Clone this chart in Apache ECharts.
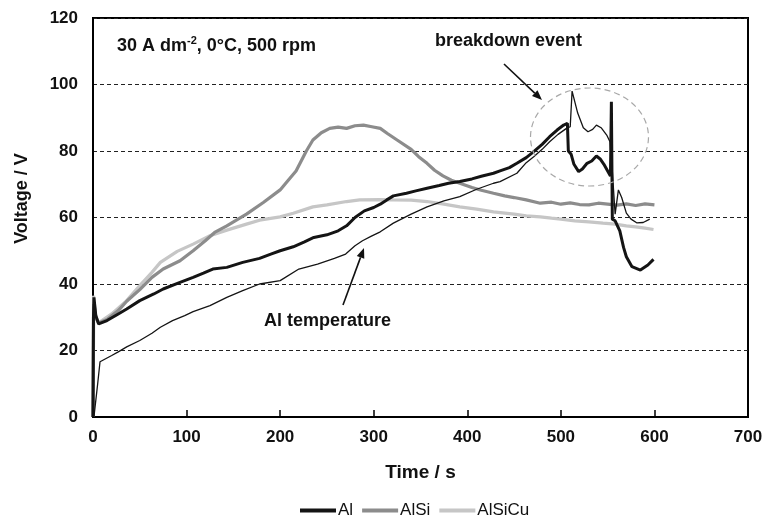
<!DOCTYPE html>
<html>
<head>
    <meta charset="utf-8">
    <title>Voltage transients</title>
    <script src="https://cdn.jsdelivr.net/npm/echarts@6/dist/echarts.min.js"></script>
</head>
<body style="margin:0;background:#fff;">
    <div id="main" style="width:766px;height:526px;"></div>
    <script type="text/javascript">
        // values, [time s, voltage V]
        var seriesNames = ['Al', 'AlSi', 'AlSiCu'];
        var tempName = 'Al temperature';

        var al = [
            [0, 0], [0.5, 30], [1, 36], [3, 30.5], [6, 28], [15, 29], [27, 31], [36, 32.5], [50, 35], [65, 37],
            [75, 38.5], [93, 40.5], [107, 42], [118, 43.3], [128, 44.5], [143, 45], [160, 46.5], [178, 47.7],
            [190, 49], [200, 50], [214, 51.2], [226, 52.7], [236, 54], [250, 54.8], [262, 56], [271, 57.5],
            [280, 60], [290, 62], [300, 63], [307, 64], [314, 65.3], [321, 66.5], [335, 67.3], [345, 68],
            [357, 68.8], [370, 69.6], [380, 70.3], [392, 70.8], [405, 71.6], [415, 72.4], [428, 73.3],
            [435, 74], [445, 75], [453, 76.3], [463, 78], [471, 79.8], [480, 82], [488, 84.3], [496, 86.3],
            [503, 87.8], [507, 88.3], [508, 80], [511, 79], [514, 76], [519, 73.8], [523, 74.6], [528, 76.3],
            [533, 77], [538, 78.5], [542, 77.6], [546, 76], [550, 74], [553, 72.5], [554, 94.8], [555, 59.5],
            [558, 59], [563, 56], [567, 51], [570, 48.2], [576, 45.2], [585, 44.2], [593, 45.7], [599, 47.4]
        ];

        var alSi = [
            [0, 0], [0.3, 10], [0.6, 30], [1, 34], [3, 30], [6, 28.3], [15, 29.3], [27, 32], [36, 34.8],
            [50, 38.3], [63, 42], [75, 44.5], [93, 47], [107, 50], [120, 53], [130, 55.5], [143, 57.5],
            [155, 59.5], [164, 61], [182, 64.5], [200, 68.3], [208, 71], [217, 74], [228, 80], [235, 83.3],
            [244, 85.5], [253, 86.8], [262, 87.2], [271, 86.8], [280, 87.6], [289, 87.8], [298, 87.3],
            [307, 86.8], [315, 85.2], [325, 83.3], [340, 80.5], [348, 78.3], [357, 76.3], [365, 74.2],
            [374, 72.5], [383, 71.2], [392, 70.3], [405, 69], [415, 68.2], [428, 67.3], [440, 66.5],
            [450, 66], [463, 65.3], [478, 64.3], [490, 64.6], [500, 64], [510, 64.4], [520, 63.9],
            [530, 63.8], [540, 64.3], [550, 64], [560, 63.7], [570, 64.1], [580, 63.6], [590, 64.1], [600, 63.8]
        ];

        var alSiCu = [
            [0, 0], [0.3, 20], [0.6, 36.5], [1.5, 34], [3, 30], [6, 28.3], [20, 31], [36, 35], [50, 39.5],
            [63, 43.5], [72, 46.5], [90, 49.8], [107, 52], [125, 54.5], [143, 56.2], [164, 58], [178, 59.2],
            [200, 60.2], [214, 61.3], [235, 63.2], [250, 63.8], [271, 64.8], [285, 65.3], [307, 65.4],
            [321, 65.3], [340, 65.2], [357, 64.8], [375, 64], [392, 63.2], [410, 62.5], [428, 61.7],
            [450, 61], [463, 60.5], [478, 60.2], [490, 59.8], [500, 59.5], [515, 59], [530, 58.7],
            [545, 58.3], [558, 58], [570, 57.5], [580, 57.2], [590, 56.8], [599, 56.4]
        ];

        var alTemp = [
            [1, 0], [3, 5], [5, 10], [7.5, 16.6], [10, 17], [20, 18.5], [27, 19.6], [36, 21.1], [50, 23],
            [63, 25.2], [72, 27], [85, 29], [98, 30.5], [107, 31.7], [125, 33.5], [143, 36], [160, 38],
            [178, 40], [200, 41], [220, 44.5], [240, 46], [258, 47.7], [270, 49], [280, 51.5], [288, 53],
            [297, 54.3], [307, 55.7], [321, 58.3], [340, 61], [357, 63.2], [375, 65], [392, 66.3],
            [410, 68.5], [428, 70.3], [435, 70.8], [453, 73.3], [463, 76.5], [471, 78.3], [480, 80.5],
            [488, 82.8], [497, 85], [506, 86.8], [510, 87.3], [512, 98], [513, 97.5], [518, 91.4],
            [524, 87], [529, 85.8], [534, 86.5], [538, 87.8], [543, 87], [549, 84.8], [552.5, 82.8],
            [555, 74], [558, 61], [561.5, 68.3], [565, 66], [570, 61.3], [575, 59.5], [581, 58.4],
            [588, 58.5], [595, 59.5]
        ];

        var xTicks = [0, 700, 100];
        var yTicks = [0, 120, 20];

        var font = 'Liberation Sans';
        var myChart = echarts.init(document.getElementById('main'));

        function arrow(x1, y1, x2, y2) {
            var a = Math.atan2(y2 - y1, x2 - x1);
            var L = 10, W = 4;
            var bx = x2 - L * Math.cos(a), by = y2 - L * Math.sin(a);
            return [{
                type: 'line', z: 100,
                shape: {x1: x1, y1: y1, x2: bx, y2: by},
                style: {stroke: '#111', lineWidth: 1.6}
            }, {
                type: 'polygon', z: 100,
                shape: {points: [[x2, y2],
                    [bx + W * Math.sin(a), by - W * Math.cos(a)],
                    [bx - W * Math.sin(a), by + W * Math.cos(a)]]},
                style: {fill: '#111'}
            }];
        }

        function lineSeries(name, data, color, width, z) {
            return {
                name: name, type: 'line', data: data, showSymbol: false, z: z,
                lineStyle: {color: color, width: width}, itemStyle: {color: color},
                animation: false
            };
        }

        var option = {
            animation: false,
            textStyle: {fontFamily: font},
            grid: {left: 93, right: 18, top: 18, bottom: 109, show: true, borderColor: '#000', borderWidth: 2},
            legend: {
                data: seriesNames, left: 295, top: 497, icon: 'rect',
                itemWidth: 36, itemHeight: 4, itemGap: 9,
                textStyle: {fontFamily: font, fontSize: 17, color: '#111', padding: [0, 0, 0, -3]}
            },
            xAxis: {
                type: 'value', min: xTicks[0], max: xTicks[1], interval: xTicks[2],
                name: 'Time / s', nameLocation: 'middle', nameGap: 46,
                nameTextStyle: {fontFamily: font, fontSize: 19, fontWeight: 'bold', color: '#111'},
                axisLine: {lineStyle: {color: '#000', width: 2}},
                axisTick: {inside: true, length: 7, lineStyle: {color: '#000', width: 1.5}},
                axisLabel: {fontFamily: font, fontSize: 17, fontWeight: 'bold', color: '#111', margin: 12},
                splitLine: {show: false}
            },
            yAxis: {
                type: 'value', min: yTicks[0], max: yTicks[1], interval: yTicks[2],
                name: 'Voltage / V', nameLocation: 'middle', nameGap: 62,
                nameTextStyle: {fontFamily: font, fontSize: 18, fontWeight: 'bold', color: '#111',
                    padding: [0, 0, 0, 38]},
                axisLine: {lineStyle: {color: '#000', width: 2}},
                axisTick: {show: false},
                axisLabel: {fontFamily: font, fontSize: 17, fontWeight: 'bold', color: '#111', margin: 15},
                splitLine: {lineStyle: {color: '#222', width: 1, type: [4, 3]}}
            },
            series: [
                lineSeries(seriesNames[0], al, '#141414', 3, 4),
                lineSeries(seriesNames[1], alSi, '#8c8c8c', 3.2, 3),
                lineSeries(seriesNames[2], alSiCu, '#c6c6c6', 3.2, 2),
                lineSeries(tempName, alTemp, '#141414', 1.3, 5)
            ],
            graphic: [
                {
                    type: 'text', left: 117, top: 35, z: 100,
                    style: {
                        text: '30 A dm{sup|-2}, 0°C, 500 rpm',
                        font: 'bold 18px ' + font, fill: '#111',
                        rich: {sup: {fontFamily: font, fontWeight: 'bold', fontSize: 11, fill: '#111',
                            padding: [0, 0, 12, 0]}}
                    }
                },
                {
                    type: 'text', left: 435, top: 32, z: 100,
                    style: {text: 'breakdown event', font: 'bold 18px ' + font, fill: '#111'}
                },
                {
                    type: 'text', left: 264, top: 312, z: 100,
                    style: {text: 'Al temperature', font: 'bold 18px ' + font, fill: '#111'}
                },
                {
                    type: 'ellipse', z: 90,
                    shape: {cx: 589.5, cy: 137, rx: 59, ry: 49},
                    style: {fill: 'none', stroke: '#a8a8a8', lineWidth: 1.2, lineDash: [6, 4]}
                }
            ].concat(arrow(504, 64, 542, 100)).concat(arrow(343, 305, 364, 248))
        };

        myChart.setOption(option);
    </script>
</body>
</html>
